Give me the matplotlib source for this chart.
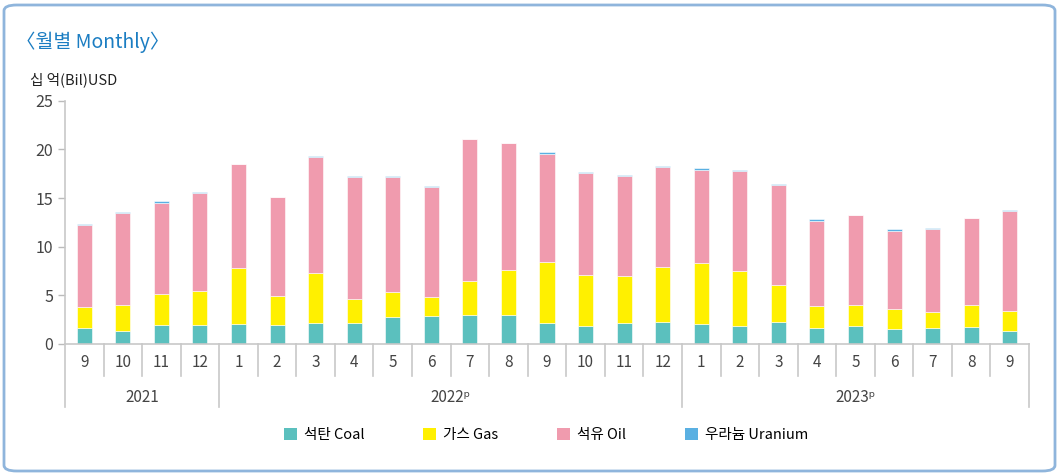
import matplotlib.pyplot as plt
from matplotlib.patches import FancyBboxPatch, Patch

plt.rcParams['font.family'] = ['Noto Sans CJK KR', 'DejaVu Sans']

months = ["9", "10", "11", "12",
          "1", "2", "3", "4", "5", "6", "7", "8", "9", "10", "11", "12",
          "1", "2", "3", "4", "5", "6", "7", "8", "9"]
years = ["2021", "2022ᵖ", "2023ᵖ"]
year_spans = [(0, 4), (4, 16), (16, 25)]

coal = [1.64, 1.37, 1.99, 1.99,
        2.09, 1.99, 2.19, 2.19, 2.81, 2.91, 3.01, 3.01, 2.19, 1.88, 2.19, 2.26,
        2.09, 1.88, 2.29, 1.68, 1.82, 1.58, 1.64, 1.75, 1.37]
gas = [2.16, 2.64, 3.15, 3.49,
       5.75, 2.94, 5.10, 2.40, 2.50, 1.92, 3.43, 4.56, 6.23, 5.21, 4.76, 5.65,
       6.27, 5.65, 3.74, 2.22, 2.15, 2.02, 1.65, 2.26, 2.02]
oil = [8.46, 9.48, 9.38, 10.07,
       10.65, 10.14, 11.89, 12.60, 11.85, 11.33, 14.59, 13.05, 11.07, 10.48, 10.34, 10.31,
       9.55, 10.21, 10.27, 8.77, 9.28, 8.04, 8.49, 8.90, 10.31]
uranium = [0.07, 0.07, 0.14, 0.10,
           0.04, 0.03, 0.14, 0.04, 0.13, 0.04, 0.03, 0.03, 0.20, 0.10, 0.07, 0.03,
           0.17, 0.14, 0.10, 0.14, 0.02, 0.18, 0.14, 0.04, 0.07]

series = [("석탄 Coal", coal, "#5bc0be"),
          ("가스 Gas", gas, "#fff000"),
          ("석유 Oil", oil, "#f09bae"),
          ("우라늄 Uranium", uranium, "#5ab0e2")]

W, H = 1059, 476
fig = plt.figure(figsize=(W / 100, H / 100), dpi=100)

# rounded frame
frame = FancyBboxPatch((4 / W, 5 / H), 1051 / W, 466 / H,
                       boxstyle="round,pad=0,rounding_size=0.012",
                       transform=fig.transFigure, fill=False,
                       edgecolor="#8fb5dc", linewidth=2)
fig.patches.append(frame)

ax = fig.add_axes([65 / W, (H - 344) / H, 964 / W, 243.3 / H])

x = list(range(len(months)))
bottom = [0.0] * len(months)
for label, vals, color in series:
    ax.bar(x, vals, width=0.39, bottom=bottom, color=color,
           edgecolor="white", linewidth=0.4, label=label)
    bottom = [b + v for b, v in zip(bottom, vals)]

ax.set_xlim(-0.5, len(months) - 0.5)
ax.set_ylim(0, 25)
ax.set_yticks([0, 5, 10, 15, 20, 25])
ax.tick_params(axis="y", colors="#bbbbbb", labelcolor="#444444",
               labelsize=11.5, length=5, width=1)
ax.set_xticks([])
for side in ["top", "right"]:
    ax.spines[side].set_visible(False)
for side in ["left", "bottom"]:
    ax.spines[side].set_color("#c8c8c8")
    ax.spines[side].set_linewidth(1.2)

# category table under the axis
tr = ax.get_xaxis_transform()
line_kw = dict(color="#c8c8c8", linewidth=1.2, clip_on=False, transform=tr)
year_edges = {s for s, e in year_spans} | {e for s, e in year_spans}
for i in range(len(months) + 1):
    low = -0.259 if i in year_edges else -0.1315
    ax.plot([i - 0.5, i - 0.5], [0, low], **line_kw)
for i, m in enumerate(months):
    ax.text(i, -0.078, m, transform=tr, ha="center", va="center",
            fontsize=11, color="#444444")
for name, (s, e) in zip(years, year_spans):
    ax.text((s + e - 1) / 2, -0.218, name, transform=tr, ha="center",
            va="center", fontsize=11, color="#444444")

fig.text(16 / W, 1 - 42 / H, "〈월별 Monthly〉", fontsize=14,
         color="#1b7dc2", ha="left", va="center")
fig.text(30 / W, 1 - 80 / H, "십 억(Bil)USD", fontsize=10.5,
         color="#222222", ha="left", va="center")

handles = [Patch(facecolor=c, edgecolor="none") for _, _, c in series]
labels = [lab for lab, _, _ in series]
fig.legend(handles, labels, loc="center", bbox_to_anchor=(546 / W, 1 - 435 / H),
           ncol=4, frameon=False, fontsize=10.5, handlelength=0.9,
           handleheight=0.9, columnspacing=4.0, handletextpad=0.5)

fig.savefig("out.png", dpi=100)
